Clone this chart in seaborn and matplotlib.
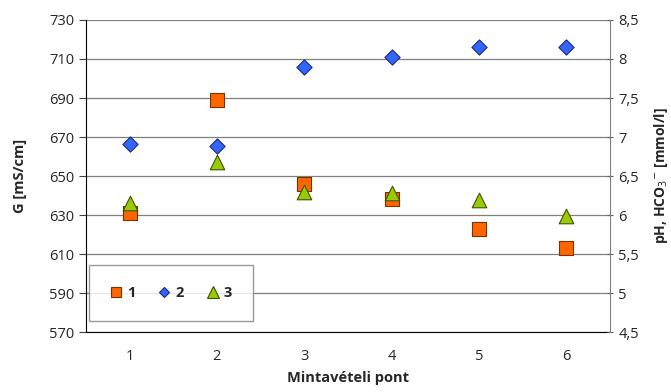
import numpy as np
import pandas as pd
import matplotlib
matplotlib.use("Agg")
import matplotlib.pyplot as plt
from matplotlib.lines import Line2D
import seaborn as sns

points = [1, 2, 3, 4, 5, 6]
g_values = [631, 689, 646, 638, 623, 613]           # series 1, left axis
ph_values = [6.91, 6.88, 7.90, 8.02, 8.16, 8.15]    # series 2, right axis
hco3_values = [6.15, 6.68, 6.30, 6.28, 6.19, 5.99]  # series 3, right axis

sns.set_style("white")
plt.rcParams["font.family"] = ["Open Sans", "DejaVu Sans"]

fig, ax = plt.subplots(figsize=(6.71, 3.92), dpi=100)
fig.subplots_adjust(left=0.128, right=0.909, top=0.949, bottom=0.153)
ax2 = ax.twinx()

df1 = pd.DataFrame({"x": points, "y": g_values})
df2 = pd.DataFrame({"x": points, "y": ph_values})
df3 = pd.DataFrame({"x": points, "y": hco3_values})

sns.scatterplot(data=df1, x="x", y="y", ax=ax, marker="s", s=110,
                color="#FF6600", edgecolor="#7a3000", linewidth=0.8, zorder=3)
sns.scatterplot(data=df2, x="x", y="y", ax=ax2, marker="D", s=60,
                color="#3366FF", edgecolor="#1a2a70", linewidth=0.8, zorder=3)
sns.scatterplot(data=df3, x="x", y="y", ax=ax2, marker="^", s=110,
                color="#99CC00", edgecolor="#3d5200", linewidth=0.8, zorder=3)

ax.set_xlim(0.5, 6.5)
ax.set_ylim(570, 730)
ax2.set_ylim(4.5, 8.5)
ax.set_yticks(np.arange(570, 731, 20))
ax2.set_yticks(np.arange(4.5, 8.51, 0.5))
ax2.set_yticklabels([("%g" % v).replace(".", ",") for v in np.arange(4.5, 8.51, 0.5)])

ax.set_xticks(points)
ax.set_xticks(np.arange(0.5, 6.6, 1), minor=True)
ax.tick_params(axis="x", which="major", length=0, pad=12)
ax.tick_params(axis="x", which="minor", length=5, direction="out", color="#404040")
ax.tick_params(axis="y", length=5, direction="out", color="#404040")
ax2.tick_params(axis="y", length=5, direction="inout", color="#606060")
for a in (ax, ax2):
    a.tick_params(labelsize=10.5, labelcolor="#262626")

ax.yaxis.grid(True, color="#808080", linewidth=0.9)
ax.set_axisbelow(True)
for s in ["top", "right"]:
    ax.spines[s].set_visible(False)
ax2.spines["top"].set_visible(False)
ax2.spines["left"].set_visible(False)
ax2.spines["bottom"].set_visible(False)
ax2.spines["right"].set_color("#808080")
ax.spines["left"].set_color("black")
ax.spines["bottom"].set_color("black")

ax.set_xlabel("Mintavételi pont", fontsize=10.5, fontweight="bold", labelpad=5)
ax.set_ylabel("G [mS/cm]", fontsize=10.5, fontweight="bold")
ax2.set_ylabel("pH, HCO$_3$$^{-}$ [mmol/l]", fontsize=10, fontweight="bold")
ax.yaxis.set_label_coords(-0.112, 0.5)
ax2.yaxis.set_label_coords(1.081, 0.5)

handles = [
    Line2D([], [], ls="", marker="s", ms=7, mfc="#FF6600", mec="#7a3000", mew=0.8),
    Line2D([], [], ls="", marker="D", ms=5.5, mfc="#3366FF", mec="#1a2a70", mew=0.8),
    Line2D([], [], ls="", marker="^", ms=8, mfc="#99CC00", mec="#3d5200", mew=0.8),
]
leg = ax.legend(handles, ["1", "2", "3"], ncol=3, loc="lower left",
                bbox_to_anchor=(0.006, 0.035, 0.313, 0.18), mode="expand",
                borderaxespad=0, frameon=True, fancybox=False, borderpad=1.45,
                handlelength=0.8, handletextpad=0.35, columnspacing=1.8,
                prop={"weight": "bold", "size": 10.5})
leg.get_frame().set_edgecolor("#808080")
leg.get_frame().set_linewidth(1)
leg.set_zorder(5)

fig.savefig("out.png", dpi=100)
